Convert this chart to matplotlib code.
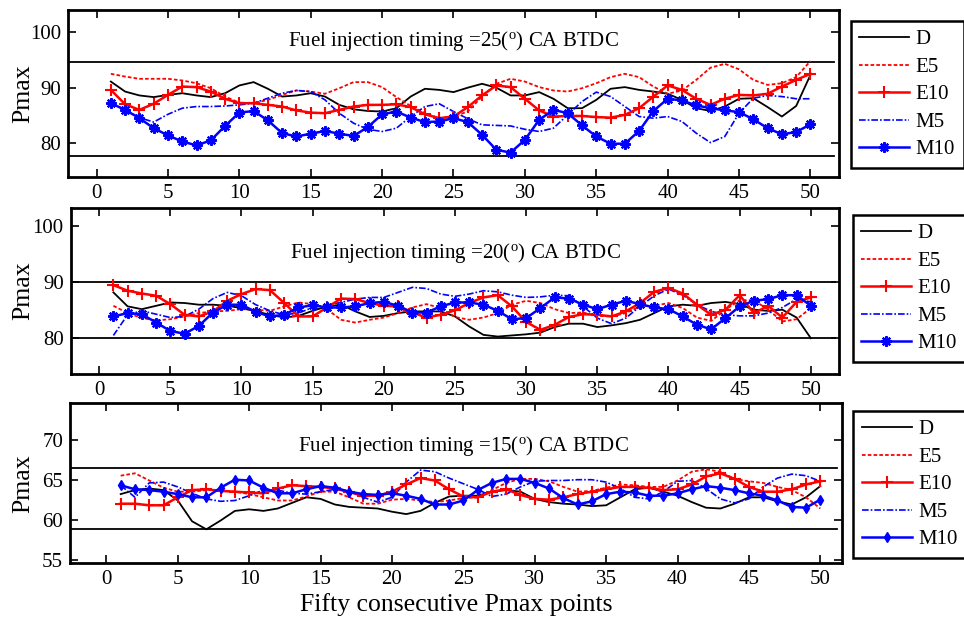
import numpy as np
import matplotlib
matplotlib.use("Agg")
import matplotlib.pyplot as plt

plt.rcParams['font.family'] = ['Liberation Serif', 'DejaVu Serif']
plt.rcParams['mathtext.fontset'] = 'custom'
plt.rcParams['mathtext.rm'] = 'Liberation Serif'
plt.rcParams['mathtext.it'] = 'Liberation Serif:italic'

x = np.arange(1, 51)
series_names = ["D", "E5", "E10", "M5", "M10"]
timings = [25, 20, 15]

# ---- Panel 1: 25 deg CA BTDC ----
D_25 = [91.1, 89.3, 88.6, 88.3, 88.7, 89.0, 88.6, 88.3, 89.0, 90.4,
        91.0, 89.8, 88.4, 88.6, 89.0, 88.4, 86.9, 86.1, 85.8, 85.7,
        86.3, 88.4, 89.8, 89.6, 89.2, 90.0, 90.7, 90.0, 88.6, 88.6,
        89.2, 88.0, 86.3, 86.3, 87.8, 89.8, 90.1, 89.6, 89.3, 88.9,
        87.8, 86.3, 85.8, 86.6, 88.0, 88.1, 86.5, 84.8, 86.7, 92.3]
E5_25 = [92.5, 92.0, 91.6, 91.6, 91.6, 91.3, 90.8, 89.9, 88.4, 87.3,
         87.2, 87.8, 88.7, 89.5, 89.3, 88.9, 89.9, 91.0, 91.0, 90.1,
         88.3, 86.7, 85.4, 84.5, 84.8, 85.7, 88.4, 90.7, 91.6, 91.1,
         90.1, 89.5, 89.3, 89.9, 90.8, 91.9, 92.5, 91.9, 90.2, 88.9,
         89.5, 91.4, 93.6, 94.3, 93.3, 91.4, 90.5, 90.8, 91.9, 94.8]
E10_25 = [89.6, 87.0, 86.0, 87.1, 88.7, 90.2, 90.1, 89.3, 88.0, 87.2,
          87.2, 86.9, 86.6, 85.9, 85.5, 85.4, 86.0, 86.6, 86.9, 86.9,
          87.0, 86.5, 85.2, 84.5, 84.8, 86.5, 88.6, 90.4, 90.1, 88.0,
          85.9, 84.8, 84.9, 84.9, 84.7, 84.6, 85.1, 86.3, 88.4, 90.4,
          89.6, 88.0, 86.9, 88.0, 88.7, 88.6, 88.9, 90.2, 91.4, 92.5]
M5_25 = [87.2, 86.0, 84.6, 83.8, 85.2, 86.3, 86.6, 86.6, 86.7, 86.9,
         87.2, 88.1, 89.0, 89.5, 89.3, 87.8, 85.4, 83.6, 82.5, 82.1,
         82.7, 84.8, 86.6, 87.1, 85.7, 84.4, 83.3, 83.2, 83.1, 82.5,
         82.1, 82.7, 85.1, 87.5, 89.2, 88.4, 86.6, 84.8, 84.5, 84.8,
         83.9, 81.8, 80.1, 81.2, 85.4, 88.1, 88.6, 88.4, 88.0, 88.0]
M10_25 = [87.2, 86.0, 84.5, 82.7, 81.4, 80.3, 79.6, 80.5, 83.1, 85.5,
          85.8, 84.1, 81.8, 81.2, 81.7, 82.2, 81.7, 81.3, 82.9, 85.2,
          85.7, 84.6, 83.8, 83.9, 84.5, 83.8, 81.5, 78.8, 78.3, 80.6,
          84.2, 86.0, 85.4, 83.2, 81.2, 79.9, 79.9, 82.2, 85.8, 88.0,
          87.7, 86.8, 86.3, 85.9, 85.6, 84.3, 82.7, 81.6, 82.0, 83.4]

# ---- Panel 2: 20 deg CA BTDC ----
D_20 = [88.2, 85.7, 85.2, 85.8, 86.4, 86.3, 86.0, 86.0, 85.8, 85.4,
        84.8, 84.2, 83.7, 84.0, 84.9, 85.7, 86.0, 84.8, 83.8, 84.0,
        84.5, 84.8, 84.8, 84.8, 83.9, 82.1, 80.6, 80.3, 80.5, 80.7,
        81.0, 82.0, 82.6, 82.6, 82.0, 82.3, 82.7, 83.3, 84.5, 85.7,
        86.0, 85.8, 86.3, 86.5, 86.1, 85.1, 84.9, 85.1, 83.7, 80.0]
E5_20 = [85.8, 84.5, 83.6, 83.2, 83.4, 83.9, 84.5, 84.8, 84.9, 85.2,
         85.1, 84.9, 85.7, 86.4, 86.1, 85.2, 83.3, 82.8, 83.3, 83.7,
         84.5, 85.5, 86.1, 85.4, 83.8, 83.3, 83.7, 84.5, 86.0, 86.7,
         86.3, 85.2, 84.5, 84.6, 84.0, 83.9, 84.5, 85.7, 85.8, 86.3,
         85.4, 83.7, 83.1, 85.1, 86.8, 86.8, 85.1, 83.0, 83.4, 85.4]
E10_20 = [89.5, 88.5, 88.0, 87.6, 86.1, 84.2, 83.9, 84.8, 86.7, 87.9,
          88.8, 88.6, 86.3, 83.9, 83.9, 85.5, 87.1, 87.0, 86.3, 85.8,
          85.7, 84.6, 83.7, 84.2, 85.0, 86.3, 87.3, 87.7, 85.7, 82.9,
          81.5, 82.4, 83.8, 84.3, 84.2, 83.9, 84.8, 86.3, 88.3, 89.0,
          88.0, 86.0, 84.2, 85.1, 87.7, 84.5, 85.8, 83.7, 86.5, 87.3]
M5_20 = [80.5, 84.2, 84.9, 84.3, 83.7, 83.9, 85.2, 87.1, 88.2, 87.6,
         86.0, 84.9, 84.2, 84.5, 85.5, 86.0, 86.4, 87.0, 87.3, 87.3,
         88.2, 89.1, 88.9, 87.9, 87.5, 87.9, 88.5, 88.3, 87.7, 87.3,
         87.4, 87.7, 87.6, 85.7, 83.6, 82.6, 83.6, 85.7, 87.6, 88.8,
         87.7, 86.0, 84.8, 84.2, 84.0, 84.0, 84.5, 85.5, 87.0, 86.5]
M10_20 = [83.9, 84.5, 84.3, 82.8, 81.3, 80.8, 82.2, 84.6, 86.0, 86.0,
          84.7, 83.9, 84.2, 85.5, 85.9, 85.5, 85.5, 85.7, 86.3, 86.5,
          85.8, 84.6, 84.6, 85.7, 86.4, 86.4, 86.0, 84.9, 83.4, 83.6,
          85.4, 87.3, 87.1, 86.0, 85.2, 86.0, 86.7, 86.1, 85.5, 85.2,
          83.9, 82.4, 81.6, 83.6, 85.7, 86.7, 87.0, 87.7, 87.7, 85.8]

# ---- Panel 3: 15 deg CA BTDC ----
D_15 = [63.2, 63.7, 63.9, 63.7, 62.4, 59.8, 58.8, 59.9, 61.1, 61.3,
        61.1, 61.4, 62.1, 62.8, 62.6, 61.9, 61.6, 61.5, 61.4, 61.0,
        60.7, 61.1, 62.1, 62.9, 63.0, 63.0, 63.5, 63.7, 63.5, 62.6,
        62.2, 62.0, 61.9, 61.7, 61.8, 62.8, 63.8, 64.0, 63.5, 63.0,
        62.2, 61.5, 61.4, 62.0, 62.8, 62.8, 62.3, 61.9, 62.8, 64.2]
E5_15 = [65.5, 65.8, 64.9, 64.0, 63.5, 63.5, 63.7, 63.7, 63.5, 63.2,
         62.8, 62.4, 62.4, 62.9, 63.5, 63.5, 62.8, 62.0, 62.0, 62.5,
         62.6, 62.4, 62.2, 62.4, 62.7, 62.8, 63.7, 64.6, 65.1, 65.1,
         64.8, 64.1, 63.5, 63.6, 64.0, 64.4, 64.3, 64.1, 64.1, 64.9,
         66.0, 66.3, 66.0, 65.1, 64.8, 64.6, 64.1, 63.7, 62.8, 61.4]
E10_15 = [62.0, 62.0, 61.8, 61.8, 62.8, 63.7, 63.8, 63.6, 63.5, 63.4,
          63.3, 63.9, 64.3, 64.2, 64.1, 63.9, 63.5, 63.0, 63.0, 63.5,
          64.4, 65.2, 64.9, 63.8, 62.9, 62.8, 63.5, 63.8, 63.1, 62.6,
          62.5, 62.8, 63.2, 63.5, 63.8, 64.1, 64.1, 64.0, 63.7, 63.8,
          64.4, 65.4, 65.8, 65.1, 64.1, 63.5, 63.5, 63.8, 64.4, 64.8]
M5_15 = [64.3, 62.8, 64.6, 64.7, 64.1, 63.3, 62.6, 62.3, 62.4, 63.0,
         63.7, 63.7, 63.3, 63.2, 63.5, 63.8, 63.5, 62.8, 62.2, 62.8,
         64.7, 66.2, 66.0, 65.2, 64.5, 63.8, 62.9, 63.2, 64.1, 64.8,
         64.9, 64.9, 65.0, 65.0, 64.7, 63.9, 62.8, 62.6, 63.5, 64.8,
         64.9, 63.9, 62.6, 62.1, 62.6, 64.1, 65.2, 65.7, 65.5, 64.8]
M10_15 = [64.3, 63.8, 63.7, 63.5, 63.2, 62.8, 62.8, 64.0, 65.0, 64.9,
          64.0, 63.3, 63.3, 63.8, 64.2, 64.0, 63.5, 63.2, 63.1, 63.3,
          63.0, 62.6, 61.9, 61.9, 62.4, 63.7, 64.6, 65.1, 65.1, 64.6,
          63.9, 62.7, 61.9, 62.3, 63.2, 63.5, 63.4, 63.0, 63.0, 63.3,
          63.8, 64.2, 64.0, 63.7, 63.3, 63.0, 62.4, 61.6, 61.5, 62.5]

# limit lines drawn in each panel
limits_25 = [94.6, 77.7]
limits_20 = [90.0, 80.0]
limits_15 = [66.45, 58.85]

yticks_25 = [80, 90, 100]
yticks_20 = [80, 90, 100]
yticks_15 = [55, 60, 65, 70]
xticks = [0, 5, 10, 15, 20, 25, 30, 35, 40, 45, 50]

panels = [
    dict(data=[D_25, E5_25, E10_25, M5_25, M10_25], lim=limits_25, yt=yticks_25,
         ylim=(73.9, 104.0), xlim=(-2, 52), pos=[68, 10, 839, 177], title_y=98.4,
         m10='ast', leg=(850.7, 21)),
    dict(data=[D_20, E5_20, E10_20, M5_20, M10_20], lim=limits_20, yt=yticks_20,
         ylim=(73.6, 103.3), xlim=(-2, 52), pos=[70.7, 208, 839.3, 374], title_y=95.3,
         m10='ast', leg=(852.7, 215)),
    dict(data=[D_15, E5_15, E10_15, M5_15, M10_15], lim=limits_15, yt=yticks_15,
         ylim=(54.55, 74.55), xlim=(-2.55, 51.5), pos=[70, 403.3, 841.7, 563.3], title_y=69.2,
         m10='dia', leg=(853.3, 411)),
]

W, H = 964, 622
fig = plt.figure(figsize=(W / 100, H / 100), dpi=100)

FS = 15
LFS = 18.5
for i, p in enumerate(panels):
    l, t, r, b = p['pos']
    ax = fig.add_axes([l / W, 1 - b / H, (r - l) / W, (b - t) / H])
    D, E5, E10, M5, M10 = p['data']
    for v in p['lim']:
        ax.axhline(v, xmin=0.0, xmax=0.994, color='black', lw=1.3, zorder=1)
    ax.plot(x, D, color='black', lw=1.3, label='D', zorder=2)
    ax.plot(x, E5, color='red', lw=1.3, ls=(0, (2, 1.2)), label='E5', zorder=3)
    ax.plot(x, E10, color='red', lw=1.8, marker='+', ms=9, mew=1.5, label='E10', zorder=4)
    ax.plot(x, M5, color='blue', lw=1.2, ls=(0, (4, 1.2, 1, 1.2)), label='M5', zorder=3)
    if p['m10'] == 'ast':
        ax.plot(x, M10, color='blue', lw=1.8, marker=(8, 2, 0), ms=7.5, mew=1.6,
                label='M10', zorder=5)
    else:
        ax.plot(x, M10, color='blue', lw=1.8, marker='d', ms=5, mfc='blue', mec='blue',
                label='M10', zorder=5)
    ax.set_xlim(*p['xlim'])
    ax.set_ylim(*p['ylim'])
    ax.set_xticks(xticks)
    ax.set_yticks(p['yt'])
    ax.tick_params(direction='in', length=6, width=1.2, top=True, right=True,
                   labelsize=FS, pad=5)
    for s in ax.spines.values():
        s.set_linewidth(2.0)
    ax.text(25, p['title_y'], r"Fuel injection timing =%d($^{\rm o}$) CA BTDC" % timings[i],
            ha='center', va='center', fontsize=FS)
    fig.text(23 / W, 1 - (t + b) / 2 / H, 'Pmax', rotation=90, ha='center', va='center',
             fontsize=LFS)
    if i == 2:
        fig.text((l + r) / 2 / W, 1 - 605 / H, 'Fifty consecutive Pmax points',
                 ha='center', va='center', fontsize=LFS)
    lx, ly = p['leg']
    leg = ax.legend(loc='upper left', bbox_to_anchor=(lx / W, 1 - ly / H),
                    bbox_transform=fig.transFigure, fontsize=FS, frameon=True,
                    fancybox=False, borderaxespad=0, handlelength=2.4,
                    handletextpad=0.3, labelspacing=0.38, borderpad=0.42)
    fr = leg.get_frame()
    fr.set_edgecolor('black')
    fr.set_linewidth(1.8)
    fr.set_alpha(1)

fig.savefig('out.png', dpi=100)
